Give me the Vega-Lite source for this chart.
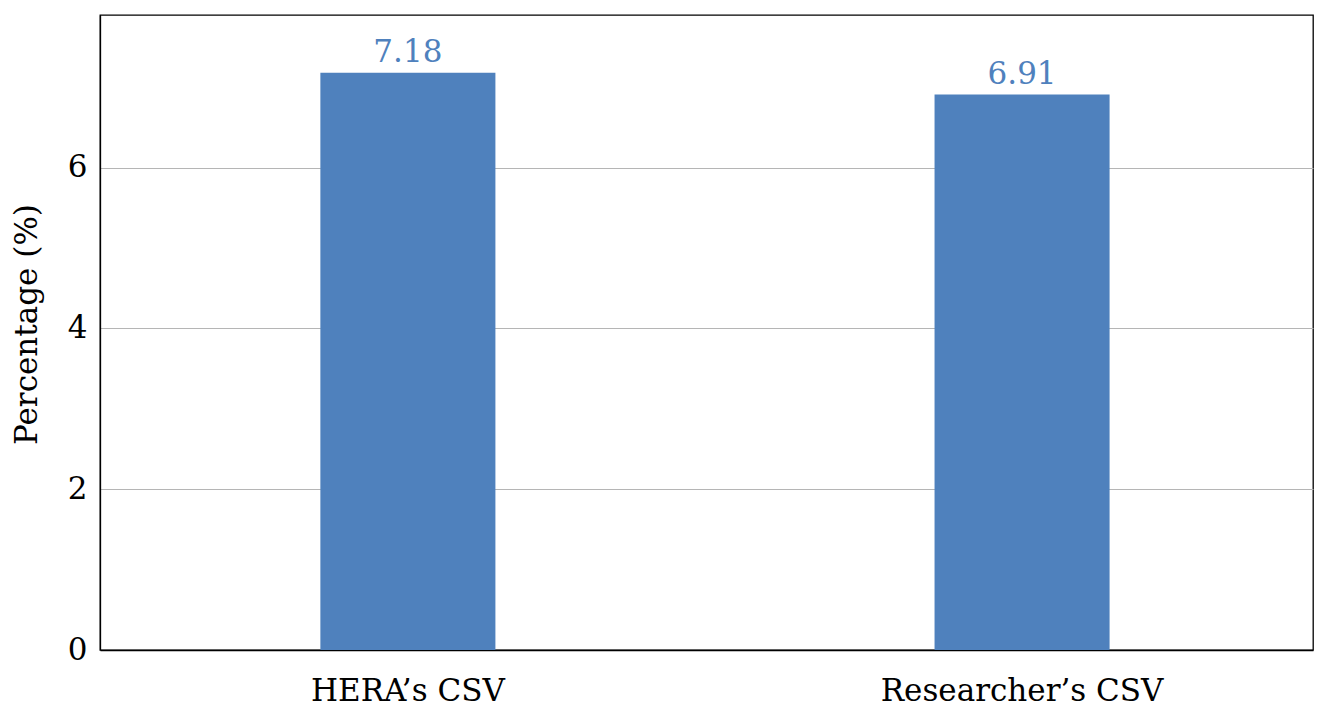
{
  "$schema": "https://vega.github.io/schema/vega-lite/v6.json",
  "width": 1213,
  "height": 635,
  "autosize": {"type": "none"},
  "padding": {"left": 100, "top": 15, "right": 15, "bottom": 64},
  "background": "white",
  "config": {
    "font": "DejaVu Serif",
    "view": {"stroke": "black", "strokeWidth": 1.3},
    "axis": {"labelFont": "DejaVu Serif", "titleFont": "DejaVu Serif", "labelColor": "black", "titleColor": "black"}
  },
  "data": {"values": [
    {"source": "HERA’s CSV", "pct": 7.18},
    {"source": "Researcher’s CSV", "pct": 6.91}
  ]},
  "encoding": {
    "x": {"field": "source", "type": "nominal", "sort": null,
      "scale": {"paddingInner": 0.715, "paddingOuter": 0.345, "align": 0.52},
      "axis": {"title": null, "labelAngle": 0, "labelFontSize": 31, "labelLimit": 0, "labelPadding": 26, "ticks": false, "domainColor": "black", "domainWidth": 1.3, "grid": false}},
    "y": {"field": "pct", "type": "quantitative",
      "scale": {"domain": [0, 7.9], "nice": false},
      "axis": {"title": "Percentage (%)", "values": [0, 2, 4, 6], "labelFontSize": 31, "labelPadding": 13, "ticks": false,
        "titleFontSize": 31, "titleFontWeight": "normal", "titlePadding": 24, "titleY": 309,
        "domainColor": "black", "domainWidth": 1.3, "grid": true, "gridColor": "#b5b5b5", "gridWidth": 1.2}}
  },
  "layer": [
    {"mark": {"type": "bar", "color": "#4f81bd"}},
    {"mark": {"type": "text", "color": "#4f81bd", "fontSize": 31, "baseline": "alphabetic", "dy": -11},
     "encoding": {"text": {"field": "pct", "type": "quantitative", "format": ".2f"}}}
  ]
}
